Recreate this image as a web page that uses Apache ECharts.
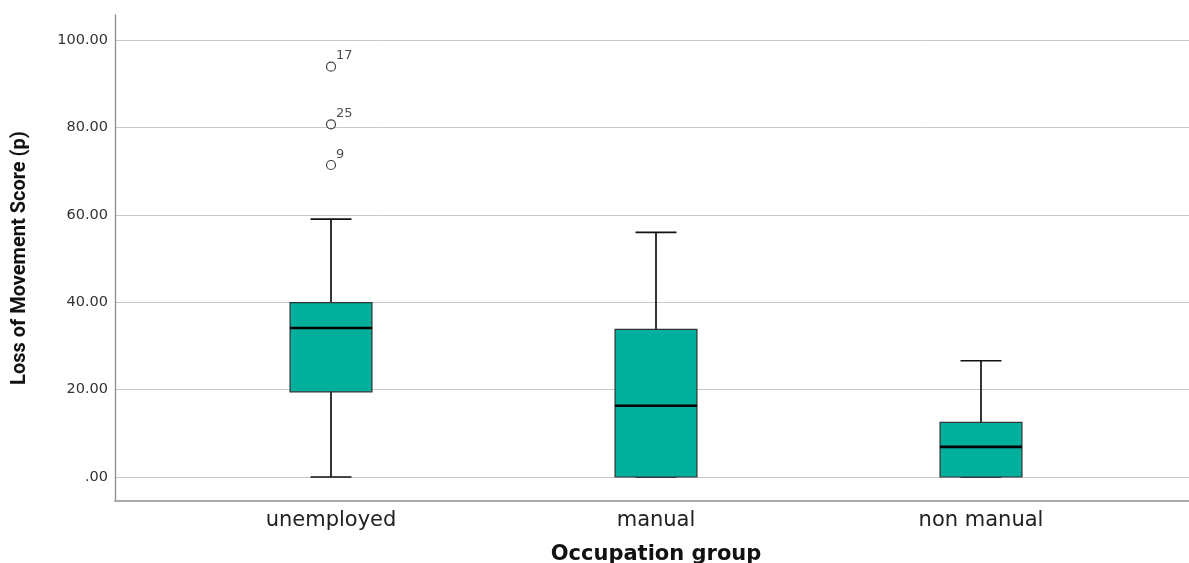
<!DOCTYPE html>
<html>
<head>
<meta charset="utf-8">
<script src="https://cdn.jsdelivr.net/npm/echarts@6/dist/echarts.min.js"></script>
<style>
  html, body { margin: 0; padding: 0; background: #ffffff; }
  #chart { width: 1189px; height: 563px; }
</style>
</head>
<body>
<div id="chart"></div>
<script>
// Occupation groups and their box-and-whisker summaries
const categories = ['unemployed', 'manual', 'non manual'];
const whiskerLow = [0, 0, 0];
const q1 = [19.5, 0, 0];
const medians = [34.1, 16.3, 6.9];
const q3 = [39.9, 33.8, 12.5];
const whiskerHigh = [59.0, 56.0, 26.6];

// Outlying cases (group index, score, case number)
const outlierGroup = [0, 0, 0];
const outlierValues = [93.9, 80.7, 71.4];
const outlierCases = ['17', '25', '9'];

// Value-axis tick labels
const yTicks = [0, 20, 40, 60, 80, 100];

const Y_MIN = -5.49;
const Y_MAX = 105.72;
const BOX_FILL = '#00b09c';

const boxData = categories.map((c, i) => [i, whiskerLow[i], q1[i], medians[i], q3[i], whiskerHigh[i]]);
const outlierData = outlierValues.map((v, i) => ({ value: [outlierGroup[i], v], case: outlierCases[i] }));

function renderBox(params, api) {
  const idx = api.value(0);
  const pLo = api.coord([idx, api.value(1)]);
  const pQ1 = api.coord([idx, api.value(2)]);
  const pMed = api.coord([idx, api.value(3)]);
  const pQ3 = api.coord([idx, api.value(4)]);
  const pHi = api.coord([idx, api.value(5)]);
  const cx = pMed[0];
  const bw = api.size([1, 0])[0] * 0.252;
  const capHalf = bw / 4;
  const lineStyle = { stroke: '#111', lineWidth: 1.7, fill: null };
  return {
    type: 'group',
    children: [
      { type: 'line', shape: { x1: cx, y1: pQ3[1], x2: cx, y2: pHi[1] }, style: lineStyle },
      { type: 'line', shape: { x1: cx, y1: pQ1[1], x2: cx, y2: pLo[1] }, style: lineStyle },
      { type: 'line', shape: { x1: cx - capHalf, y1: pHi[1], x2: cx + capHalf, y2: pHi[1] }, style: lineStyle },
      { type: 'line', shape: { x1: cx - capHalf, y1: pLo[1], x2: cx + capHalf, y2: pLo[1] }, style: lineStyle },
      {
        type: 'rect',
        shape: { x: cx - bw / 2, y: pQ3[1], width: bw, height: pQ1[1] - pQ3[1] },
        style: { fill: BOX_FILL, stroke: '#333', lineWidth: 1.2 }
      },
      {
        type: 'line',
        shape: { x1: cx - bw / 2, y1: pMed[1], x2: cx + bw / 2, y2: pMed[1] },
        style: { stroke: '#000', lineWidth: 2.6 }
      }
    ]
  };
}

const chart = echarts.init(document.getElementById('chart'), null, { renderer: 'canvas' });

chart.setOption({
  backgroundColor: '#ffffff',
  animation: false,
  grid: [
    { left: 115, right: 0, top: 15, bottom: 62, containLabel: false, outerBoundsMode: 'none' },
    { left: 168.5, right: 45.5, top: 15, bottom: 62, containLabel: false, outerBoundsMode: 'none' }
  ],
  xAxis: [
    {
      gridIndex: 0,
      type: 'value',
      min: 0,
      max: 1,
      axisLine: { show: true, onZero: false, lineStyle: { color: '#aaaaaa', width: 2 } },
      axisTick: { show: false },
      axisLabel: { show: false },
      splitLine: { show: false }
    },
    {
      gridIndex: 1,
      type: 'category',
      data: categories,
      boundaryGap: true,
      axisLine: { show: false, onZero: false },
      axisTick: { show: false },
      axisLabel: {
        margin: 9,
        color: '#222',
        fontFamily: 'DejaVu Sans',
        fontSize: 21
      },
      name: 'Occupation group',
      nameLocation: 'middle',
      nameGap: 43,
      nameTextStyle: {
        color: '#111',
        fontFamily: 'DejaVu Sans',
        fontWeight: 'bold',
        fontSize: 21
      }
    }
  ],
  yAxis: [
    {
      gridIndex: 0,
      type: 'value',
      min: Y_MIN,
      max: Y_MAX,
      axisLine: { show: true, onZero: false, lineStyle: { color: '#8a8a8a', width: 1.3 } },
      axisTick: { show: false, customValues: yTicks },
      axisLabel: {
        customValues: yTicks,
        margin: 7,
        color: '#333',
        fontFamily: 'DejaVu Sans',
        fontSize: 14.5,
        formatter: v => (v === 0 ? '.00' : v.toFixed(2))
      },
      splitLine: { show: true, lineStyle: { color: '#c8c8c8', width: 1 } },
      name: 'Loss of Movement Score (p)',
      nameLocation: 'middle',
      nameGap: 85,
      nameRotate: 90,
      nameTextStyle: {
        color: '#111',
        fontFamily: 'Roboto',
        fontWeight: 'bold',
        fontSize: 20
      }
    },
    {
      gridIndex: 1,
      type: 'value',
      min: Y_MIN,
      max: Y_MAX,
      show: false,
      splitLine: { show: false }
    }
  ],
  series: [
    {
      type: 'custom',
      name: 'boxes',
      xAxisIndex: 1,
      yAxisIndex: 1,
      renderItem: renderBox,
      encode: { x: 0, y: [1, 2, 3, 4, 5] },
      data: boxData,
      z: 3
    },
    {
      type: 'scatter',
      name: 'outliers',
      xAxisIndex: 1,
      yAxisIndex: 1,
      symbol: 'circle',
      symbolSize: 9,
      itemStyle: { color: '#ffffff', borderColor: '#111', borderWidth: 1.2 },
      label: {
        show: true,
        position: [10, -12],
        formatter: p => p.data.case,
        color: '#222',
        fontFamily: 'DejaVu Sans',
        fontSize: 13
      },
      data: outlierData,
      z: 4
    }
  ]
});
</script>
</body>
</html>
